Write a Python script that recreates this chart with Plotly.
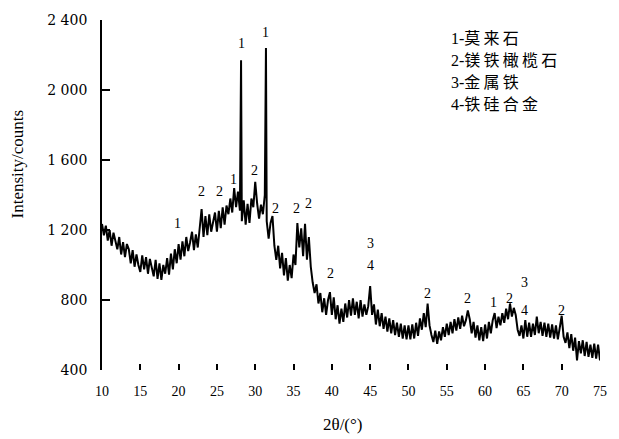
import plotly.graph_objects as go

# XRD pattern, step 0.25 deg 2theta from 10 to 75
theta_start = 10.0
theta_step = 0.25

counts_10_20 = [1235, 1170, 1225, 1140, 1200, 1110, 1185, 1130, 1090, 1160,
                1060, 1130, 1045, 1120, 1090, 1010, 1085, 990, 1060, 1000,
                960, 1055, 975, 1045, 950, 1035, 990, 935, 1030, 920,
                1010, 915, 1000, 950, 1040, 945, 1065, 975, 1090, 1010]
counts_20_30 = [1120, 1030, 1135, 1050, 1160, 1080, 1130, 1190, 1085, 1175,
                1100, 1200, 1320, 1160, 1280, 1170, 1290, 1190, 1240, 1300,
                1190, 1310, 1210, 1330, 1230, 1340, 1290, 1380, 1300, 1440,
                1330, 1420, 1310, 1250, 1370, 1230, 1350, 1240, 1380, 1330]
counts_30_40 = [1475, 1350, 1265, 1345, 1290, 1400, 1250, 1150, 1240, 1280,
                1110, 1030, 1110, 980, 1070, 940, 1040, 910, 1000, 925,
                1060, 1000, 1240, 1100, 1210, 1050, 1235, 1030, 1160, 990,
                900, 840, 890, 780, 840, 730, 810, 715, 800, 845]
counts_40_50 = [715, 815, 690, 770, 665, 750, 675, 780, 700, 800,
                710, 810, 715, 790, 695, 800, 705, 775, 715, 765,
                880, 715, 775, 660, 745, 650, 725, 635, 705, 620,
                695, 610, 685, 600, 670, 590, 665, 580, 655, 575]
counts_50_60 = [655, 575, 660, 580, 670, 595, 695, 630, 725, 645,
                780, 655, 600, 560, 625, 550, 620, 570, 645, 590,
                665, 600, 675, 610, 690, 625, 700, 635, 710, 650,
                685, 740, 690, 610, 675, 585, 655, 570, 645, 565]
counts_60_75 = [660, 580, 675, 610, 685, 725, 640, 705, 655, 725,
                670, 750, 690, 780, 705, 755, 715, 630, 595, 655,
                580, 685, 590, 670, 590, 665, 600, 705, 610, 675,
                595, 670, 590, 665, 585, 660, 580, 655, 575, 645,
                710, 590, 555, 615, 525, 605, 510, 585, 455, 565,
                495, 570, 480, 560, 475, 545, 470, 550, 465, 545,
                455]

# sharp reflections between grid points
peak_theta = [28.15, 31.4]
peak_counts = [2170, 2240]

# phase marks above reflections
mark_theta = [19.85, 22.95, 25.3, 27.2, 28.15, 29.95, 31.4, 32.65, 35.4, 36.95,
              39.8, 45.0, 45.0, 52.5, 57.65, 61.15, 63.25, 65.2, 65.2, 69.95]
mark_counts = [1238, 1420, 1420, 1488, 2264, 1539, 2326, 1323, 1323, 1352,
               950, 1125, 995, 836, 808, 785, 808, 898, 740, 740]
mark_text = ["1", "2", "2", "1", "1", "2", "1", "2", "2", "2",
             "2", "3", "4", "2", "2", "1", "2", "3", "4", "2"]

legend_lines = ["1-莫\u2009来\u2009石", "2-镁\u2009铁\u2009橄\u2009榄\u2009石",
                "3-金\u2009属\u2009铁", "4-铁\u2009硅\u2009合\u2009金"]

x_ticks = [10, 15, 20, 25, 30, 35, 40, 45, 50, 55, 60, 65, 70, 75]
y_ticks = [400, 800, 1200, 1600, 2000, 2400]
y_ticktext = ["400", "800", "1 200", "1 600", "2 000", "2 400"]

counts = counts_10_20 + counts_20_30 + counts_30_40 + counts_40_50 + counts_50_60 + counts_60_75
theta = [theta_start + theta_step * i for i in range(len(counts))]
pts = sorted(list(zip(theta, counts)) + list(zip(peak_theta, peak_counts)))
xs = [p[0] for p in pts]
ys = [p[1] for p in pts]

SERIF = "Liberation Serif, Times New Roman, Noto Sans CJK SC, serif"
WIDE_SERIF = "DejaVu Serif, serif"

fig = go.Figure()
fig.add_trace(go.Scatter(x=xs, y=ys, mode="lines",
                         line=dict(color="black", width=2),
                         hoverinfo="skip"))

for tx, ty, tt in zip(mark_theta, mark_counts, mark_text):
    fig.add_annotation(x=tx, y=ty, text=tt, showarrow=False,
                       font=dict(family=SERIF, size=14, color="black"),
                       xanchor="center", yanchor="middle")

left, right, top, bottom = 102, 604, 17, 370
pw, ph = right - left, bottom - top

legend_y = [36, 58, 80, 102]
for txt, py in zip(legend_lines, legend_y):
    fig.add_annotation(xref="paper", yref="paper",
                       x=(452 - left) / pw, y=(bottom - py) / ph,
                       text=txt, showarrow=False,
                       xanchor="left", yanchor="middle",
                       font=dict(family=SERIF, size=16, color="black"))

fig.add_annotation(xref="paper", yref="paper",
                   x=(17 - left) / pw, y=(bottom - 162) / ph,
                   text="Intensity/counts", textangle=-90, showarrow=False,
                   xanchor="center", yanchor="middle",
                   font=dict(family=SERIF, size=17, color="black"))
fig.add_annotation(xref="paper", yref="paper",
                   x=(345 - left) / pw, y=(bottom - 425) / ph,
                   text="2θ/(°)", showarrow=False,
                   xanchor="center", yanchor="middle",
                   font=dict(family=SERIF, size=17, color="black"))

fig.update_layout(
    width=619, height=439,
    margin=dict(l=left, r=619 - right, t=top, b=439 - bottom),
    paper_bgcolor="white", plot_bgcolor="white",
    showlegend=False,
    xaxis=dict(range=[10, 75], tickvals=x_ticks, ticks="inside", ticklen=6,
               tickwidth=1.5, tickcolor="black", showline=False,
               showgrid=False, zeroline=False, ticklabelstandoff=11,
               tickfont=dict(family=SERIF, size=14, color="black")),
    yaxis=dict(range=[400, 2400], tickvals=y_ticks, ticktext=y_ticktext,
               ticks="inside", ticklen=8, tickwidth=1.5, tickcolor="black",
               showline=True, linewidth=1.8, linecolor="black",
               showgrid=False, zeroline=False, ticklabelstandoff=10,
               tickfont=dict(family=WIDE_SERIF, size=14, color="black")),
)

fig.write_html("out.html")
